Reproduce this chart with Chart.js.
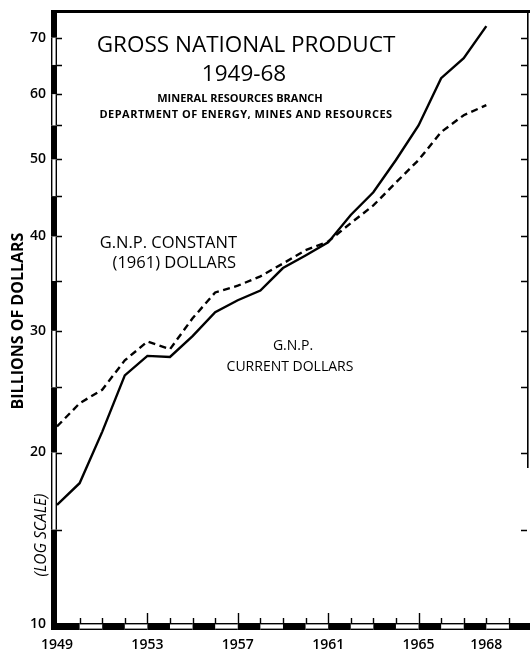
<!DOCTYPE html>
<html>
<head>
<meta charset="utf-8">
<title>Gross National Product 1949-68</title>
<script src="https://cdn.jsdelivr.net/npm/chart.js@4/dist/chart.umd.min.js"></script>
<style>
  html, body { margin: 0; padding: 0; background: #ffffff; }
  #wrap { width: 530px; height: 652px; }
</style>
</head>
<body>
<div id="wrap"><canvas id="gnp" width="530" height="652"></canvas></div>
<script>
// Gross National Product, billions of dollars
const years = [1949, 1950, 1951, 1952, 1953, 1954, 1955, 1956, 1957, 1958,
               1959, 1960, 1961, 1962, 1963, 1964, 1965, 1966, 1967, 1968];
const currentDollars = [16.5, 17.9, 21.5, 26.0, 27.7, 27.6, 29.5, 31.8, 33.0, 34.0,
                        36.4, 37.8, 39.3, 42.6, 45.5, 49.9, 55.0, 62.7, 66.2, 72.2];
const constantDollars = [21.9, 23.7, 24.8, 27.3, 29.0, 28.3, 31.2, 33.8, 34.5, 35.5,
                         36.9, 38.4, 39.4, 41.6, 43.8, 46.8, 49.9, 54.0, 56.6, 58.2];

// axis ticks
const yTickValues = [10, 15, 20, 25, 30, 35, 40, 45, 50, 55, 60, 65, 70];
const yLabelValues = [10, 20, 30, 40, 50, 60, 70];
const xTickYears = [1949, 1950, 1951, 1952, 1953, 1954, 1955, 1956, 1957, 1958, 1959,
                    1960, 1961, 1962, 1963, 1964, 1965, 1966, 1967, 1968, 1969];
const xLabelYears = [1949, 1953, 1957, 1961, 1965, 1968];

const FONT = '"Open Sans", "DejaVu Sans", sans-serif';

// Log-type axis with an offset origin: position follows log10(value + offset)
const AXIS_OFFSET = 10;
class OffsetLogScale extends Chart.LinearScale {
  configure() {
    super.configure();
    this._tStart = Math.log10(this.min + AXIS_OFFSET);
    this._tRange = Math.log10(this.max + AXIS_OFFSET) - this._tStart;
  }
  getPixelForValue(value) {
    if (value === null || value === undefined || isNaN(value)) return NaN;
    return this.getPixelForDecimal((Math.log10(value + AXIS_OFFSET) - this._tStart) / this._tRange);
  }
  getValueForPixel(pixel) {
    return Math.pow(10, this._tStart + this.getDecimalForPixel(pixel) * this._tRange) - AXIS_OFFSET;
  }
}
OffsetLogScale.id = 'offsetLog';
OffsetLogScale.defaults = Chart.LinearScale.defaults;
Chart.register(OffsetLogScale);

// Frame: striped axis bars, tick marks, top and right borders
const framePlugin = {
  id: 'frame',
  afterDraw(chart) {
    const ctx = chart.ctx;
    const xs = chart.scales.x, ys = chart.scales.y;
    const area = chart.chartArea;
    const barW = 6;
    ctx.save();
    ctx.fillStyle = '#000';
    ctx.strokeStyle = '#000';

    // top border
    ctx.fillRect(area.left - barW, area.top - 2, chart.width - (area.left - barW), 3);
    // right border
    ctx.lineWidth = 1.6;
    ctx.beginPath();
    ctx.moveTo(area.right + 0.8, area.top - 2);
    ctx.lineTo(area.right + 0.8, 468);
    ctx.stroke();

    // left striped bar
    const lx = area.left - barW;
    for (let v = 10; v < 75; v += 5) {
      const y0 = ys.getPixelForValue(v);
      const y1 = v + 5 >= 75 ? area.top - 2 : ys.getPixelForValue(v + 5);
      if ((v / 5) % 2 === 0) {
        ctx.fillRect(lx, y1, barW, y0 - y1);
      } else {
        ctx.fillRect(lx, y1, 1.4, y0 - y1);
        ctx.fillRect(area.left - 1.4, y1, 1.4, y0 - y1);
      }
    }

    // bottom striped bar
    const by = area.bottom;
    ctx.fillRect(lx, by - 1, barW + 1, barW + 1);
    for (let yr = 1949; yr < 1971; yr++) {
      const x0 = xs.getPixelForValue(yr);
      const x1 = Math.min(xs.getPixelForValue(yr + 1), chart.width);
      if (x0 >= chart.width) break;
      if ((yr - 1949) % 2 === 0) {
        ctx.fillRect(x0, by - 1, x1 - x0, barW + 1);
      } else {
        ctx.fillRect(x0, by - 1, x1 - x0, 1.4);
        ctx.fillRect(x0, by + barW - 1.4, x1 - x0, 1.4);
      }
    }

    // tick marks
    ctx.lineWidth = 1.4;
    ctx.beginPath();
    yTickValues.forEach(v => {
      const y = Math.round(ys.getPixelForValue(v)) + 0.5;
      ctx.moveTo(area.left, y); ctx.lineTo(area.left + 5, y);
      ctx.moveTo(area.right, y); ctx.lineTo(area.right - 6, y);
    });
    xTickYears.forEach(yr => {
      if (yr === 1949) return;
      const x = Math.round(xs.getPixelForValue(yr)) + 0.5;
      const len = (xLabelYears.includes(yr) && yr !== 1968) ? 11 : 6;
      ctx.moveTo(x, by); ctx.lineTo(x, by - len);
    });
    ctx.stroke();
    ctx.restore();
  }
};

// Titles and line captions
const textPlugin = {
  id: 'captions',
  afterDraw(chart) {
    const ctx = chart.ctx;
    ctx.save();
    ctx.fillStyle = '#000';
    ctx.textBaseline = 'middle';
    ctx.textAlign = 'center';

    ctx.font = '500 22.5px ' + FONT;
    ctx.fillText('GROSS NATIONAL PRODUCT', 246, 46);
    ctx.fillText('1949-68', 244, 75);
    ctx.font = '700 11px ' + FONT;
    ctx.fillText('MINERAL RESOURCES BRANCH', 240, 99);
    ctx.letterSpacing = '0.5px';
    ctx.fillText('DEPARTMENT OF ENERGY, MINES AND RESOURCES', 246, 115);
    ctx.letterSpacing = '0px';

    ctx.font = '500 16.5px ' + FONT;
    ctx.textAlign = 'right';
    ctx.fillText('G.N.P. CONSTANT', 237, 243);
    ctx.fillText('(1961) DOLLARS', 236, 263);
    ctx.textAlign = 'center';
    ctx.font = '500 14px ' + FONT;
    ctx.fillText('G.N.P.', 293, 346);
    ctx.fillText('CURRENT DOLLARS', 290, 367);

    // vertical axis titles
    ctx.save();
    ctx.translate(18, 321);
    ctx.rotate(-Math.PI / 2);
    ctx.font = '700 16px ' + FONT;
    ctx.fillText('BILLIONS OF DOLLARS', 0, 0);
    ctx.restore();
    ctx.save();
    ctx.translate(42, 535);
    ctx.rotate(-Math.PI / 2);
    ctx.font = 'italic 500 15.5px ' + FONT;
    ctx.fillText('(LOG SCALE)', 0, 0);
    ctx.restore();
    ctx.restore();
  }
};

const tickFont = { family: FONT, size: 14, weight: '600' };

new Chart(document.getElementById('gnp'), {
  type: 'line',
  data: {
    datasets: [
      {
        label: 'G.N.P. current dollars',
        data: years.map((yr, i) => ({ x: yr, y: currentDollars[i] })),
        borderColor: '#000',
        borderWidth: 2.4,
        pointRadius: 0,
        tension: 0,
        fill: false
      },
      {
        label: 'G.N.P. constant (1961) dollars',
        data: years.map((yr, i) => ({ x: yr, y: constantDollars[i] })),
        borderColor: '#000',
        borderWidth: 2.4,
        borderDash: [7, 4.5],
        pointRadius: 0,
        tension: 0,
        fill: false
      }
    ]
  },
  options: {
    responsive: false,
    animation: false,
    layout: { padding: { top: 12, right: 3, left: 0, bottom: 0 } },
    plugins: { legend: { display: false }, tooltip: { enabled: false }, title: { display: false } },
    scales: {
      x: {
        type: 'linear',
        min: 1949,
        max: 1969.8,
        grid: { display: false, drawTicks: false },
        border: { display: false },
        afterFit(scale) {
          scale.height = 28;
          scale.paddingLeft = 0;
          scale.paddingRight = 0;
        },
        afterBuildTicks(scale) { scale.ticks = xTickYears.map(v => ({ value: v })); },
        ticks: {
          autoSkip: false,
          maxRotation: 0,
          padding: 13,
          color: '#000',
          font: tickFont,
          callback: v => (xLabelYears.includes(v) ? String(v) : '')
        }
      },
      y: {
        type: 'offsetLog',
        min: 10,
        max: 75,
        grid: { display: false, drawTicks: false },
        border: { display: false },
        afterFit(scale) {
          scale.width = 57;
          scale.paddingTop = 0;
          scale.paddingBottom = 0;
        },
        afterBuildTicks(scale) { scale.ticks = yTickValues.map(v => ({ value: v })); },
        ticks: {
          autoSkip: false,
          padding: 11,
          color: '#000',
          font: tickFont,
          callback: v => (yLabelValues.includes(v) ? String(v) : '')
        }
      }
    }
  },
  plugins: [framePlugin, textPlugin]
});
</script>
</body>
</html>
